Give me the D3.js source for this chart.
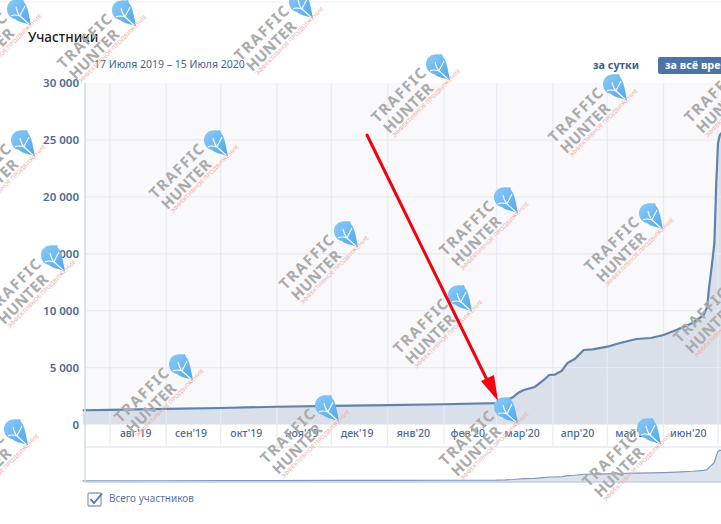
<!DOCTYPE html>
<html lang="ru">
<head>
<meta charset="utf-8">
<script src="https://cdn.jsdelivr.net/npm/d3@7"></script>
<style>
html,body{margin:0;padding:0;background:#fff;overflow:hidden}
svg{display:block}
text{font-family:"Noto Sans","Open Sans",sans-serif}
</style>
</head>
<body>
<svg id="c" width="721" height="524"></svg>
<script>
const dates = ["2019-07-17","2019-08-01","2019-09-01","2019-10-01","2019-11-01","2019-12-01","2020-01-01","2020-02-01","2020-03-01","2020-03-06","2020-03-10","2020-03-13","2020-03-16","2020-03-22","2020-03-27","2020-03-30","2020-04-02","2020-04-06","2020-04-09","2020-04-13","2020-04-18","2020-04-23","2020-05-01","2020-05-08","2020-05-17","2020-05-25","2020-06-01","2020-06-08","2020-06-17","2020-06-23","2020-06-25","2020-06-26","2020-06-27","2020-06-28","2020-06-29","2020-06-30","2020-07-01","2020-07-02","2020-07-03","2020-07-15"];
const members = [1250,1290,1370,1450,1560,1640,1700,1780,1880,2065,2390,2795,3030,3295,3910,4350,4375,4730,5400,5755,6545,6600,6835,7160,7510,7600,7865,8300,8920,9600,10300,11900,13200,14500,15950,21000,24700,25440,25615,26300];
const yTicks = [0,5000,10000,15000,20000,25000,30000];
const monthStarts = ["2019-08-01","2019-09-01","2019-10-01","2019-11-01","2019-12-01","2020-01-01","2020-02-01","2020-03-01","2020-04-01","2020-05-01","2020-06-01","2020-07-01"];
const monthLabels = ["авг'19","сен'19","окт'19","ноя'19","дек'19","янв'20","фев'20","мар'20","апр'20","май'20","июн'20"];
const titleText = "Участники";
const rangeText = "17 Июля 2019 – 15 Июля 2020";
const legendText = "Всего участников";
const watermarkSpots = [[18,12],[123,13],[300,5],[437,67],[614,87],[750,67],[22,143],[215,143],[505,200],[650,216],[345,234],[52,258],[459,298],[739,287],[180,367],[326,408],[505,410],[15,432],[648,431]];

const parse = d3.utcParse("%Y-%m-%d");
const series = dates.map((d,i)=>({date:parse(d),value:members[i]}));
const svg = d3.select("#c");

const plot = {left:85,top:83,bottom:424.5,axisBottom:447,navBottom:482};
const x = d3.scaleUtc().domain([parse("2019-08-01"),parse("2020-07-01")]).range([110,718]);
const y = d3.scaleLinear().domain([0,30000]).range([plot.bottom,plot.top]);
const yNav = d3.scaleLinear().domain([0,30000]).range([482.5,444.7]);

const grad = svg.append("defs").append("linearGradient").attr("id","ic").attr("x1",0).attr("y1",0).attr("x2",1).attr("y2",1);
grad.append("stop").attr("offset",0).attr("stop-color","#8ccbf7");
grad.append("stop").attr("offset",1).attr("stop-color","#4fa6ee");

svg.append("line").attr("x1",0).attr("x2",721).attr("y1",2).attr("y2",2).attr("stroke","#eef0f4").attr("stroke-width",1);

svg.append("rect").attr("x",plot.left).attr("y",plot.top).attr("width",721-plot.left).attr("height",plot.bottom-plot.top).attr("fill","#f9f9fb");

const area = d3.area().x(d=>x(d.date)).y0(plot.bottom).y1(d=>y(d.value));
const line = d3.line().x(d=>x(d.date)).y(d=>y(d.value));
svg.append("path").datum(series).attr("d",area).attr("fill","#d9e0ea");

// vertical grid through plot and month band
svg.append("g").selectAll("line").data(monthStarts).join("line")
  .attr("x1",d=>x(parse(d))).attr("x2",d=>x(parse(d)))
  .attr("y1",plot.top).attr("y2",plot.axisBottom)
  .attr("stroke","#e6eaf3").attr("stroke-opacity",.85).attr("stroke-width",1.3);
// horizontal grid
svg.append("g").selectAll("line").data(yTicks.filter(t=>t>0&&t<30000)).join("line")
  .attr("x1",plot.left).attr("x2",721).attr("y1",d=>y(d)).attr("y2",d=>y(d))
  .attr("stroke","#e6eaf3").attr("stroke-opacity",.85).attr("stroke-width",1.3);

svg.append("path").datum(series).attr("d",line).attr("fill","none").attr("stroke","#5f83ab").attr("stroke-width",2.2);

// y axis
const yAxis = d3.axisLeft(y).tickValues(yTicks).tickSize(0).tickPadding(5)
  .tickFormat(d=>d3.format(",")(d).replace(/,/g," "));
const gy = svg.append("g").attr("transform",`translate(${plot.left-1},0)`).call(yAxis);
gy.select(".domain").remove();
gy.selectAll("text").attr("fill","#4a6b94").attr("font-size",11.5).attr("font-weight",600)
  .style("font-family",'"Noto Sans",sans-serif');

// month axis
const mids = monthLabels.map((m,i)=>new Date((parse(monthStarts[i]).getTime()+parse(monthStarts[i+1]).getTime())/2));
const xAxis = d3.axisBottom(x).tickValues(mids).tickSize(0).tickPadding(0)
  .tickFormat((d,i)=>monthLabels[i]);
const gx = svg.append("g").attr("transform",`translate(-3,${plot.bottom+5})`).call(xAxis);
gx.select(".domain").remove();
gx.selectAll("text").attr("fill","#4a6b94").attr("font-size",10.5).attr("font-weight",500);

// band / navigator frame
svg.append("line").attr("x1",plot.left).attr("x2",721).attr("y1",plot.axisBottom).attr("y2",plot.axisBottom).attr("stroke","#e4e8f1").attr("stroke-width",1.5);

const navArea = d3.area().x(d=>x(d.date)).y0(plot.navBottom).y1(d=>yNav(d.value));
const navLine = d3.line().x(d=>x(d.date)).y(d=>yNav(d.value));
svg.append("path").datum(series).attr("d",navArea).attr("fill","#dde3ec");
svg.append("path").datum(series).attr("d",navLine).attr("fill","none").attr("stroke","#7d99bb").attr("stroke-width",1.2);
svg.append("line").attr("x1",plot.left-.5).attr("x2",721).attr("y1",plot.navBottom).attr("y2",plot.navBottom).attr("stroke","#c5d1e1").attr("stroke-width",1.4);
svg.append("line").attr("x1",plot.left).attr("x2",plot.left).attr("y1",plot.top).attr("y2",plot.navBottom).attr("stroke","#d3dcea").attr("stroke-width",1.6);

// header
svg.append("text").attr("x",28).attr("y",42).attr("fill","#1b1b1b").attr("font-size",13.5).attr("font-weight",500).text(titleText);
svg.append("text").attr("x",94).attr("y",68).attr("fill","#3f6491").attr("font-size",10.5).text(rangeText);
svg.append("text").attr("x",593).attr("y",69).attr("fill","#3f618d").attr("font-size",10.8).attr("font-weight",700).text("за сутки");
svg.append("rect").attr("x",658).attr("y",57).attr("width",90).attr("height",17).attr("rx",2).attr("fill","#4b74a5");
svg.append("text").attr("x",665).attr("y",69).attr("fill","#fff").attr("font-size",10.8).attr("font-weight",700).text("за всё время");

// legend
svg.append("rect").attr("x",88).attr("y",493).attr("width",13).attr("height",13).attr("rx",1).attr("fill","#fff").attr("stroke","#8aa3c2").attr("stroke-width",1.3);
svg.append("path").attr("d",d3.line()([[90.5,499],[94,503],[102,493.5]])).attr("fill","none").attr("stroke","#4f76a5").attr("stroke-width",1.8);
svg.append("text").attr("x",109).attr("y",502).attr("fill","#5a7699").attr("font-size",10).text(legendText);

// watermarks
const wm = svg.append("g").selectAll("g").data(watermarkSpots).join("g").attr("transform",d=>`translate(${d[0]},${d[1]})`);
wm.append("path").attr("d","M-11,-3 C-11,-11 -3,-14 2,-12.5 L5,-13 L6,-10 C10,-6 11,4 13,13 C7,11 0,10 -3,7 C-8,6 -11,2 -11,-3 Z").attr("fill","url(#ic)");
wm.append("path").attr("d","M-2,-5 C-1,-1 0,2 2,4 L11,12 M7,-6 C5,-2 3,1 2,4 M-7,4 C-4,2 -1,3 2,4").attr("fill","none").attr("stroke","#fff").attr("stroke-width",1.1);
const wt = wm.append("g").attr("transform","rotate(-45)");
wt.append("text").attr("x",-82).attr("y",-2).attr("font-size",15).attr("font-weight",700).attr("textLength",70).attr("lengthAdjust","spacing").attr("fill","#ababab").text("TRAFFIC");
wt.append("text").attr("x",-81).attr("y",14).attr("font-size",15).attr("font-weight",700).attr("textLength",63).attr("lengthAdjust","spacing").attr("fill","#ababab").text("HUNTER");
wt.append("text").attr("x",-80).attr("y",20).attr("font-size",5.5).attr("textLength",94).attr("lengthAdjust","spacingAndGlyphs").attr("fill","#f4a99e").text("ЭФФЕКТИВНОЕ ПРОДВИЖЕНИЕ");

// red arrow
svg.append("line").attr("x1",367).attr("y1",135).attr("x2",490).attr("y2",386).attr("stroke","#f5000f").attr("stroke-width",3).attr("stroke-linecap","round");
svg.append("path").attr("d","M498,401 L481,381 L494,375 Z").attr("fill","#f5000f");
</script>
</body>
</html>
